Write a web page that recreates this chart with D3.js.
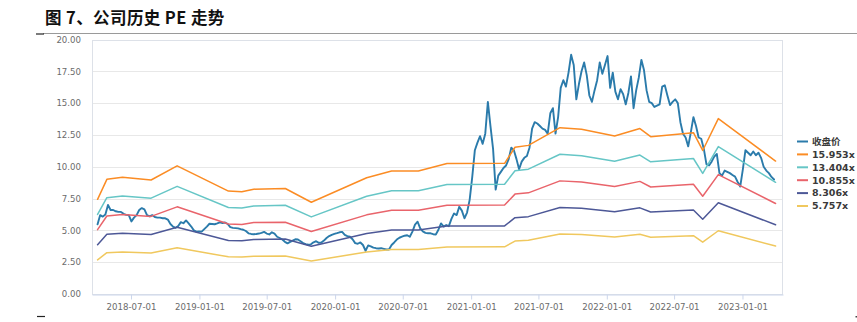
<!DOCTYPE html>
<html>
<head>
<meta charset="utf-8">
<script src="https://cdn.jsdelivr.net/npm/d3@7"></script>
<style>
  html, body { margin: 0; padding: 0; background: #fff; }
  svg { display: block; }
</style>
</head>
<body>
<svg id="chart" width="857" height="322"></svg>
<script>
// ---- data ----
const titleText = "图 7、公司历史 PE 走势";

const yTickValues = [0, 2.5, 5, 7.5, 10, 12.5, 15, 17.5, 20];
const xTickDates = ["2018-07-01", "2019-01-01", "2019-07-01", "2020-01-01", "2020-07-01",
                    "2021-01-01", "2021-07-01", "2022-01-01", "2022-07-01", "2023-01-01"];

// weekly closing price, first week starting on closeStart
const closeStart = "2018-04-02";
const closeWeekly = [
  5.48, 6.20, 6.08, 6.25, 7.00, 6.60, 6.60, 6.50, 6.45, 6.45,
  6.30, 6.22, 6.20, 5.70, 6.00, 6.20, 6.60, 6.75, 6.65, 6.20,
  6.10, 6.20, 6.05, 6.00, 6.00, 5.95, 5.95, 5.85, 5.50, 5.30,
  5.20, 5.35, 5.65, 5.56, 5.78, 5.55, 5.30, 5.00, 4.90, 4.92,
  4.90, 5.10, 5.30, 5.52, 5.50, 5.48, 5.55, 5.63, 5.58, 5.62,
  5.50, 5.25, 5.20, 5.18, 5.16, 5.10, 5.05, 4.95, 4.77, 4.72,
  4.70, 4.72, 4.75, 4.80, 4.88, 4.75, 4.68, 4.85, 4.75, 4.50,
  4.40, 4.28, 4.10, 3.98, 4.10, 4.20, 4.30, 4.28, 4.15, 4.00,
  3.92, 3.88, 3.90, 4.06, 4.15, 4.02, 4.05, 4.20, 4.40, 4.55,
  4.65, 4.72, 4.78, 4.85, 4.88, 4.64, 4.55, 4.50, 4.30, 4.00,
  3.95, 4.05, 3.85, 3.40, 3.82, 3.75, 3.65, 3.60, 3.58, 3.60,
  3.55, 3.50, 3.50, 3.85, 4.05, 4.28, 4.42, 4.50, 4.58, 4.62,
  4.50, 4.90, 5.45, 5.68, 5.15, 4.92, 4.80, 4.77, 4.77, 4.70,
  4.68, 5.05, 5.55, 5.30, 5.42, 5.33, 5.90, 6.33, 6.20, 6.85,
  6.55, 5.95, 6.40, 7.40, 9.20, 11.30, 11.90, 12.40, 11.80, 12.60,
  15.10, 13.20, 11.40, 8.20, 9.30, 9.60, 9.90, 10.10, 10.60, 11.50,
  11.30, 10.60, 9.80, 10.40, 10.70, 10.85, 11.50, 13.00, 13.50, 13.40,
  13.20, 13.00, 12.90, 12.60, 14.20, 14.60, 12.60, 13.90, 16.20, 16.80,
  16.30, 17.40, 18.80, 18.00, 15.30, 16.50, 17.50, 18.20, 17.20, 15.60,
  15.10, 16.00, 16.80, 18.20, 17.30, 18.00, 18.70, 16.20, 17.40, 15.90,
  15.30, 16.10, 15.70, 14.90, 15.80, 17.10, 14.60, 16.00, 17.00, 18.40,
  17.60, 16.00, 15.10, 15.00, 14.70, 14.80, 14.90, 16.30, 16.40, 15.60,
  14.85, 15.10, 15.30, 15.00, 13.50, 12.60, 12.30, 11.60, 12.70, 13.90,
  13.20, 12.30, 12.20, 11.40, 10.20, 10.10, 10.40, 10.80, 11.00, 9.50,
  9.30, 9.70, 9.60, 9.50, 9.35, 9.22, 8.80, 8.45, 9.80, 11.30,
  11.10, 10.90, 11.20, 10.90, 11.10, 10.70, 10.00, 9.70, 9.50, 9.20,
  9.00
];

// PE band price levels at each earnings update
const bandDates = [
  "2018-04-02", "2018-04-27", "2018-06-08", "2018-08-24", "2018-11-02",
  "2019-03-20", "2019-04-25", "2019-05-27", "2019-08-20", "2019-10-29",
  "2020-03-26", "2020-06-01", "2020-08-12", "2020-10-28", "2021-04-01",
  "2021-04-29", "2021-06-04", "2021-08-28", "2021-10-25", "2022-01-22",
  "2022-03-31", "2022-04-29", "2022-08-22", "2022-09-16", "2022-10-28",
  "2023-03-31"
];
const bandPE15953 = [7.44, 9.01, 9.17, 8.96, 10.07, 8.09, 8.03, 8.24, 8.29, 7.21,
  9.14, 9.67, 9.67, 10.25, 10.27, 11.53, 11.68, 13.07, 12.94, 12.42,
  13.00, 12.36, 12.68, 11.28, 13.78, 10.45];
const bandPE13404 = [6.25, 7.57, 7.70, 7.53, 8.46, 6.80, 6.75, 6.92, 6.97, 6.06,
  7.68, 8.12, 8.12, 8.61, 8.63, 9.69, 9.81, 10.98, 10.87, 10.44,
  10.92, 10.39, 10.65, 9.48, 11.58, 8.78];
const bandPE10855 = [5.06, 6.13, 6.24, 6.10, 6.85, 5.50, 5.46, 5.61, 5.64, 4.91,
  6.22, 6.58, 6.58, 6.97, 6.99, 7.85, 7.95, 8.89, 8.80, 8.45,
  8.85, 8.41, 8.63, 7.68, 9.38, 7.11];
const bandPE8306 = [3.87, 4.69, 4.77, 4.67, 5.24, 4.21, 4.18, 4.29, 4.32, 3.75,
  4.76, 5.03, 5.03, 5.34, 5.35, 6.00, 6.08, 6.80, 6.74, 6.47,
  6.77, 6.44, 6.60, 5.87, 7.17, 5.44];
const bandPE5757 = [2.68, 3.25, 3.31, 3.23, 3.63, 2.92, 2.90, 2.97, 2.99, 2.60,
  3.30, 3.49, 3.49, 3.70, 3.71, 4.16, 4.22, 4.72, 4.67, 4.48,
  4.69, 4.46, 4.58, 4.07, 4.97, 3.77];

const seriesNames = ["收盘价", "15.953x", "13.404x", "10.855x", "8.306x", "5.757x"];
const seriesColors = ["#2b7bab", "#fb8c24", "#66c6c6", "#e9646b", "#4d5897", "#f0c85e"];

// ---- layout ----
const W = 857, H = 322;
const plot = { left: 92, right: 783, top: 39.5, bottom: 294 };
const parse = d3.utcParse("%Y-%m-%d");
const fmtDate = d3.utcFormat("%Y-%m-%d");

const svg = d3.select("#chart");

const x = d3.scaleUtc()
  .domain([parse("2018-03-18"), parse("2023-04-20")])
  .range([plot.left, plot.right]);
const y = d3.scaleLinear()
  .domain([0, 20])
  .range([plot.bottom, plot.top]);

// page header rule and title
svg.append("line")
  .attr("x1", 43).attr("x2", W).attr("y1", 33.5).attr("y2", 33.5)
  .attr("stroke", "#9a9a9a").attr("stroke-width", 1);
svg.append("line")
  .attr("x1", 36).attr("x2", 44).attr("y1", 34).attr("y2", 34)
  .attr("stroke", "#222").attr("stroke-width", 1.2);
svg.append("line")
  .attr("x1", 37).attr("x2", 45).attr("y1", 316.5).attr("y2", 316.5)
  .attr("stroke", "#222").attr("stroke-width", 1.2);
svg.append("rect")
  .attr("x", 855.5).attr("y", 316).attr("width", 1.5).attr("height", 1.5)
  .attr("fill", "#444");

svg.append("text")
  .attr("x", 45).attr("y", 24)
  .attr("font-family", "'Noto Sans CJK SC', 'Noto Sans', sans-serif")
  .attr("font-weight", "bold")
  .attr("font-size", 16.5)
  .attr("letter-spacing", 0.4)
  .attr("fill", "#111")
  .text(titleText);

// horizontal grid
svg.append("g")
  .selectAll("line")
  .data(yTickValues)
  .join("line")
  .attr("x1", plot.left).attr("x2", plot.right)
  .attr("y1", d => Math.round(y(d)) + 0.5).attr("y2", d => Math.round(y(d)) + 0.5)
  .attr("stroke", "#e8e8e8").attr("stroke-width", 1);

// plot frame
svg.append("rect")
  .attr("x", plot.left + 0.5).attr("y", Math.round(plot.top) + 0.5)
  .attr("width", plot.right - plot.left - 1)
  .attr("height", Math.round(plot.bottom) - Math.round(plot.top))
  .attr("fill", "none").attr("stroke", "#dde1e8").attr("stroke-width", 1);

// y axis labels
const yAxis = d3.axisLeft(y)
  .tickValues(yTickValues)
  .tickFormat(d3.format(".2f"))
  .tickSize(0)
  .tickPadding(0);
const gy = svg.append("g")
  .attr("transform", `translate(${plot.left - 11},0)`)
  .call(yAxis);
gy.select(".domain").remove();
gy.selectAll("text")
  .attr("font-family", "'DejaVu Sans', sans-serif")
  .attr("font-size", 8.6)
  .attr("fill", "#6b6b6b");

// x axis
const xAxis = d3.axisBottom(x)
  .tickValues(xTickDates.map(parse))
  .tickFormat(fmtDate)
  .tickSize(5)
  .tickPadding(4)
  .tickSizeOuter(0);
const gx = svg.append("g")
  .attr("transform", `translate(0,${Math.round(plot.bottom) + 0.5})`)
  .call(xAxis);
gx.select(".domain").attr("stroke", "#ccd6eb");
gx.selectAll(".tick line").attr("stroke", "#ccd6eb");
gx.selectAll("text")
  .attr("font-family", "'DejaVu Sans', sans-serif")
  .attr("font-size", 8.6)
  .attr("fill", "#6b6b6b");

// series
const closeStartDate = parse(closeStart);
const closeData = closeWeekly.map((v, i) => ({ date: d3.utcDay.offset(closeStartDate, 7 * i), value: v }));
const bandDateObjs = bandDates.map(parse);
const bandSets = [bandPE15953, bandPE13404, bandPE10855, bandPE8306, bandPE5757]
  .map(vals => vals.map((v, i) => ({ date: bandDateObjs[i], value: v })));

const line = d3.line()
  .x(d => x(d.date))
  .y(d => y(d.value));

const seriesData = [closeData, ...bandSets];
svg.append("g")
  .attr("fill", "none")
  .attr("stroke-linejoin", "round")
  .attr("stroke-linecap", "round")
  .selectAll("path")
  .data(seriesData)
  .join("path")
  .attr("d", line)
  .attr("stroke", (d, i) => seriesColors[i])
  .attr("stroke-width", (d, i) => i === 0 ? 1.9 : 1.5);

// legend
const legend = svg.append("g").attr("transform", "translate(797,141.5)");
const item = legend.selectAll("g")
  .data(seriesNames)
  .join("g")
  .attr("transform", (d, i) => `translate(0,${i * 12.9})`);
item.append("line")
  .attr("x1", 0).attr("x2", 11).attr("y1", 0).attr("y2", 0)
  .attr("stroke", (d, i) => seriesColors[i])
  .attr("stroke-width", 2);
item.append("text")
  .attr("x", 15).attr("y", 0).attr("dy", "0.35em")
  .attr("font-family", "'DejaVu Sans', 'Noto Sans CJK SC', sans-serif")
  .attr("font-weight", "bold")
  .attr("font-size", 9.5)
  .attr("fill", "#3a3a3a")
  .text(d => d);
</script>
</body>
</html>
